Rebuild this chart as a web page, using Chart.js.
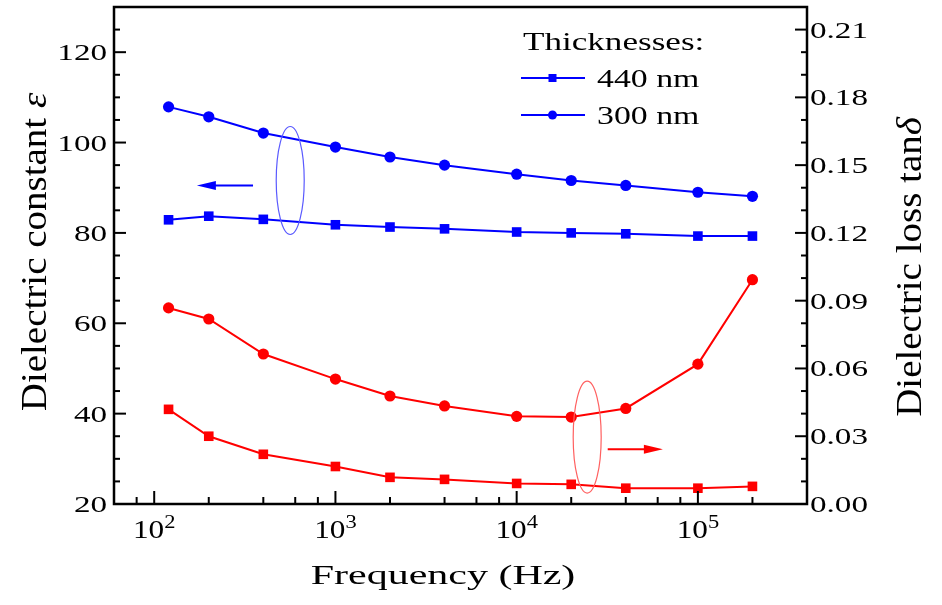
<!DOCTYPE html>
<html>
<head>
<meta charset="utf-8">
<script src="https://cdn.jsdelivr.net/npm/chart.js@4.4.1/dist/chart.umd.min.js"></script>
<style>
  html, body { margin: 0; padding: 0; background: #fff; }
  canvas { display: block; }
</style>
</head>
<body>
<canvas id="chart" width="942" height="605"></canvas>
<script>
// ===== data =====
const freqs   = [120, 200, 400, 1000, 2000, 4000, 10000, 20000, 40000, 100000, 200000];
const eps440  = [82.9, 83.7, 83.0, 81.8, 81.3, 80.9, 80.2, 80.0, 79.8, 79.3, 79.3];
const eps300  = [107.9, 105.7, 102.1, 99.0, 96.8, 95.0, 93.0, 91.6, 90.5, 89.0, 88.1];
const loss440 = [0.0419, 0.0300, 0.0220, 0.0166, 0.0118, 0.0109, 0.0091, 0.0087, 0.0070, 0.0070, 0.0078];
const loss300 = [0.0868, 0.0819, 0.0664, 0.0553, 0.0478, 0.0434, 0.0388, 0.0385, 0.0423, 0.0619, 0.0993];

const xMajorTicks = [100, 1000, 10000, 100000];
const xMinorTicks = [80, 200, 400, 600, 800, 2000, 4000, 6000, 8000, 20000, 40000, 60000, 80000, 200000];
const yLeftTicks  = [20, 40, 60, 80, 100, 120];
const yRightTicks = [0.00, 0.03, 0.06, 0.09, 0.12, 0.15, 0.18, 0.21];
const legendTitle = 'Thicknesses:';
const legendNames = ['440 nm', '300 nm'];

const BLUE = '#0000ff';
const RED = '#ff0000';
const FONT = '"Liberation Serif", "Times New Roman", serif';

// draws text made of pieces, stretched horizontally like the original figure
function richText(ctx, segs, x, y, opts = {}) {
  const sx = opts.sx || 1.38;
  const align = opts.align || 'center';
  ctx.save();
  ctx.translate(x, y);
  ctx.scale(sx, 1);
  if (opts.rot) ctx.rotate(opts.rot);
  const fontOf = s => `${s.it ? 'italic ' : ''}${s.size}px ${FONT}`;
  let total = 0;
  const widths = segs.map(s => { ctx.font = fontOf(s); const w = ctx.measureText(s.t).width; total += w; return w; });
  let cx = align === 'left' ? 0 : align === 'right' ? -total : -total / 2;
  ctx.textAlign = 'left';
  ctx.textBaseline = opts.baseline || 'alphabetic';
  ctx.fillStyle = opts.color || '#000';
  segs.forEach((s, i) => { ctx.font = fontOf(s); ctx.fillText(s.t, cx, s.dy || 0); cx += widths[i]; });
  ctx.restore();
}

function yMinor(ticks, step, n) {
  const out = [];
  ticks.forEach(t => { for (let k = 1; k <= n; k++) out.push(+(t + k * step).toFixed(4)); });
  return out;
}

const decoPlugin = {
  id: 'deco',
  afterDatasetsDraw(chart) {
    const { ctx, scales } = chart;
    const x = scales.x, yl = scales.y;

    // ellipses + arrows
    ctx.save();
    ctx.lineWidth = 1.2;
    ctx.strokeStyle = '#5a5aff';
    ctx.beginPath();
    ctx.ellipse(x.getPixelForValue(563), yl.getPixelForValue(91.6), 14, 54, 0, 0, Math.PI * 2);
    ctx.stroke();
    ctx.strokeStyle = '#ff6060';
    ctx.beginPath();
    ctx.ellipse(x.getPixelForValue(24500), yl.getPixelForValue(34.8), 14, 56, 0, 0, Math.PI * 2);
    ctx.stroke();

    const arrow = (x0, x1, yy, color) => {
      const dir = Math.sign(x1 - x0);
      ctx.strokeStyle = color; ctx.fillStyle = color; ctx.lineWidth = 2;
      ctx.beginPath(); ctx.moveTo(x0, yy); ctx.lineTo(x1 - dir * 14, yy); ctx.stroke();
      ctx.beginPath(); ctx.moveTo(x1, yy); ctx.lineTo(x1 - dir * 19, yy - 4.5); ctx.lineTo(x1 - dir * 19, yy + 4.5); ctx.closePath(); ctx.fill();
    };
    arrow(x.getPixelForValue(351), x.getPixelForValue(172), yl.getPixelForValue(90.5), BLUE);
    arrow(x.getPixelForValue(31800), x.getPixelForValue(64100), yl.getPixelForValue(32.1), RED);
    ctx.restore();
  },
  afterDraw(chart) {
    const { ctx, chartArea: a, scales } = chart;
    const x = scales.x, yl = scales.y, yr = scales.y1;
    ctx.save();
    ctx.strokeStyle = '#000';

    // frame
    ctx.lineWidth = 2.5;
    ctx.strokeRect(a.left, a.top, a.right - a.left, a.bottom - a.top);

    // inward ticks
    ctx.lineWidth = 2;
    const tick = (x0, y0, x1, y1) => { ctx.beginPath(); ctx.moveTo(x0, y0); ctx.lineTo(x1, y1); ctx.stroke(); };
    xMajorTicks.forEach(v => { const p = x.getPixelForValue(v); tick(p, a.bottom, p, a.bottom - 13); });
    xMinorTicks.forEach(v => { const p = x.getPixelForValue(v); tick(p, a.bottom, p, a.bottom - 7); });
    yLeftTicks.forEach(v => { const p = yl.getPixelForValue(v); tick(a.left, p, a.left + 12, p); });
    yMinor(yLeftTicks, 5, 3).filter(v => v < 130).forEach(v => { const p = yl.getPixelForValue(v); tick(a.left, p, a.left + 6, p); });
    yRightTicks.forEach(v => { const p = yr.getPixelForValue(v); tick(a.right, p, a.right - 12, p); });
    yMinor(yRightTicks, 0.01, 2).filter(v => v < 0.22).forEach(v => { const p = yr.getPixelForValue(v); tick(a.right, p, a.right - 6, p); });

    // tick labels
    yLeftTicks.forEach(v => richText(ctx, [{ t: String(v), size: 24 }], a.left - 7, yl.getPixelForValue(v) + 8, { align: 'right' }));
    yRightTicks.forEach(v => richText(ctx, [{ t: v.toFixed(2), size: 24 }], a.right + 3, yr.getPixelForValue(v) + 8, { align: 'left' }));
    xMajorTicks.forEach(v => {
      const e = Math.round(Math.log10(v));
      richText(ctx, [{ t: '10', size: 25 }, { t: String(e), size: 18, dy: -10 }], x.getPixelForValue(v), 538, { sx: 1.25 });
    });

    // axis titles
    richText(ctx, [{ t: 'Frequency (Hz)', size: 28 }], 443, 584, { sx: 1.5 });
    richText(ctx, [{ t: 'Dielectric constant ', size: 39 }, { t: 'ε', size: 39, it: true }], 37, 252,
      { sx: 0.9, rot: -Math.PI / 2, baseline: 'middle' });
    richText(ctx, [{ t: 'Dielectric loss tan', size: 39 }, { t: 'δ', size: 39, it: true }], 912, 267,
      { sx: 0.9, rot: -Math.PI / 2, baseline: 'middle' });

    // legend
    richText(ctx, [{ t: legendTitle, size: 26 }], 523, 50, { align: 'left', sx: 1.35 });
    const rows = [
      { y: 78, name: legendNames[0], shape: 'rect' },
      { y: 115, name: legendNames[1], shape: 'circle' }
    ];
    rows.forEach(r => {
      ctx.strokeStyle = BLUE; ctx.fillStyle = BLUE; ctx.lineWidth = 2;
      tick(521, r.y, 585, r.y);
      if (r.shape === 'rect') ctx.fillRect(548.5, r.y - 4, 8, 8);
      else { ctx.beginPath(); ctx.arc(552.5, r.y, 4.5, 0, Math.PI * 2); ctx.fill(); }
      richText(ctx, [{ t: r.name, size: 26 }], 597, r.y + 8.5, { align: 'left', sx: 1.3 });
    });
    ctx.restore();
  }
};

const pts = ys => freqs.map((f, i) => ({ x: f, y: ys[i] }));
const series = (label, ys, color, shape, axis) => ({
  label, data: pts(ys), yAxisID: axis,
  borderColor: color, backgroundColor: color, borderWidth: 2,
  pointStyle: shape, pointRadius: shape === 'rect' ? 6.8 : 5.6,
  pointBorderWidth: 0, tension: 0, fill: false
});

new Chart(document.getElementById('chart').getContext('2d'), {
  type: 'line',
  data: {
    datasets: [
      series('440 nm ε', eps440, BLUE, 'rect', 'y'),
      series('300 nm ε', eps300, BLUE, 'circle', 'y'),
      series('440 nm tanδ', loss440, RED, 'rect', 'y1'),
      series('300 nm tanδ', loss300, RED, 'circle', 'y1')
    ]
  },
  options: {
    responsive: false,
    animation: false,
    layout: { padding: { top: 7, left: 0, right: 0, bottom: 0 } },
    plugins: { legend: { display: false }, tooltip: { enabled: false } },
    scales: {
      x: {
        type: 'logarithmic', min: 60, max: 400000,
        grid: { display: false }, border: { display: false }, ticks: { display: false },
        afterFit: s => { s.height = 101; }
      },
      y: {
        position: 'left', min: 20, max: 130,
        grid: { display: false }, border: { display: false }, ticks: { display: false },
        afterFit: s => { s.width = 114; }
      },
      y1: {
        position: 'right', min: 0, max: 0.22,
        grid: { display: false }, border: { display: false }, ticks: { display: false },
        afterFit: s => { s.width = 135; }
      }
    }
  },
  plugins: [decoPlugin]
});
</script>
</body>
</html>
